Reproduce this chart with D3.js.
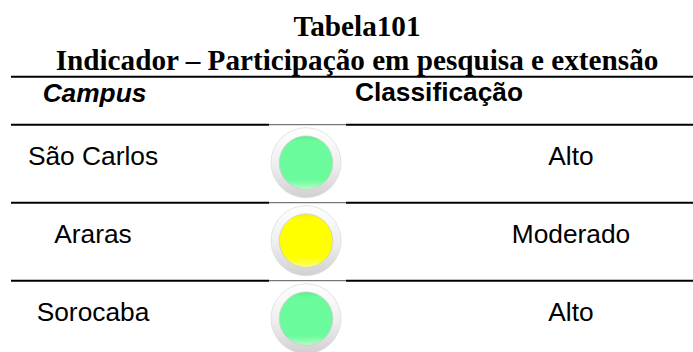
<!DOCTYPE html>
<html>
<head>
<meta charset="utf-8">
<script src="https://cdn.jsdelivr.net/npm/d3@7"></script>
<style>
html, body { margin: 0; padding: 0; background: #fff; overflow: hidden; }
svg { display: block; }
.title { font-family: "Liberation Serif", serif; font-weight: bold; font-size: 29.2px; text-anchor: middle; fill: #000; }
.cell { font-family: "Liberation Sans", sans-serif; font-size: 26.3px; text-anchor: middle; fill: #000; }
.head { font-weight: bold; }
</style>
</head>
<body>
<svg id="chart" width="693" height="352"></svg>
<script>
const titleLines = ["Tabela101", "Indicador – Participação em pesquisa e extensão"];
const headers = ["Campus", "Classificação"];
const campuses = ["São Carlos", "Araras", "Sorocaba"];
const ratings = ["Alto", "Moderado", "Alto"];

const colours = {
    Alto: { top: "#4ff08a", mid: "#6bfb9c", low: "#b8fcca" },
    Moderado: { top: "#f6f000", mid: "#ffff00", low: "#fdfd88" }
};

const svg = d3.select("#chart");
const defs = svg.append("defs");

// bezel of the lamp
const bezel = defs.append("linearGradient").attr("id", "bezel")
    .attr("x1", 0).attr("y1", 0).attr("x2", 0).attr("y2", 1);
bezel.append("stop").attr("offset", "0%").attr("stop-color", "#ffffff");
bezel.append("stop").attr("offset", "55%").attr("stop-color", "#eeeeee");
bezel.append("stop").attr("offset", "100%").attr("stop-color", "#d2cfcf");

Object.keys(colours).forEach(k => {
    const g = defs.append("linearGradient").attr("id", "lamp-" + k)
        .attr("x1", 0).attr("y1", 0).attr("x2", 0).attr("y2", 1);
    g.append("stop").attr("offset", "0%").attr("stop-color", colours[k].top);
    g.append("stop").attr("offset", "10%").attr("stop-color", colours[k].mid);
    g.append("stop").attr("offset", "82%").attr("stop-color", colours[k].mid);
    g.append("stop").attr("offset", "100%").attr("stop-color", colours[k].low);
});

// title
svg.selectAll("text.title")
    .data(titleLines)
    .enter()
    .append("text")
    .attr("class", "title")
    .attr("x", 357)
    .attr("y", (d, i) => 36 + i * 34)
    .text(d => d);

// rows
const y = d3.scaleBand().domain(campuses.map((d, i) => i)).range([124.7, 358.7]);
const rowMid = i => y(i) + y.bandwidth() / 2;

svg.append("line")
    .attr("x1", 11).attr("x2", 693).attr("y1", 76.7).attr("y2", 76.7)
    .attr("stroke", "#000").attr("stroke-width", 2);

// header row
svg.append("text").attr("class", "cell head")
    .attr("x", 94.5).attr("y", 101.5)
    .style("font-style", "italic")
    .text(headers[0]);
svg.append("text").attr("class", "cell head")
    .attr("x", 439).attr("y", 100.5)
    .text(headers[1]);

// separators, thin across the lamp column
campuses.forEach((c, i) => {
    const ly = y(i);
    [[11, 269], [346, 693]].forEach(s => {
        svg.append("line").attr("x1", s[0]).attr("x2", s[1]).attr("y1", ly).attr("y2", ly)
            .attr("stroke", "#000").attr("stroke-width", 2);
    });
    svg.append("line").attr("x1", 269).attr("x2", 346).attr("y1", ly).attr("y2", ly)
        .attr("stroke", "#555").attr("stroke-width", 1);
});

const rows = svg.selectAll("g.row")
    .data(campuses)
    .enter()
    .append("g")
    .attr("class", "row")
    .attr("transform", (d, i) => `translate(0,${rowMid(i)})`);

rows.append("text").attr("class", "cell")
    .attr("x", 93).attr("y", 1.5)
    .text(d => d);

rows.append("text").attr("class", "cell")
    .attr("x", 571).attr("y", 1.5)
    .text((d, i) => ratings[i]);

rows.append("circle")
    .attr("cx", 306).attr("cy", -1).attr("r", 35)
    .attr("fill", "url(#bezel)")
    .attr("stroke", "#dcdcdc").attr("stroke-width", 0.8);

rows.append("circle")
    .attr("cx", 306).attr("cy", -1).attr("r", 26.8)
    .attr("fill", (d, i) => `url(#lamp-${ratings[i]})`)
    .attr("stroke", "#c9cfc9").attr("stroke-width", 0.8);
</script>
</body>
</html>
